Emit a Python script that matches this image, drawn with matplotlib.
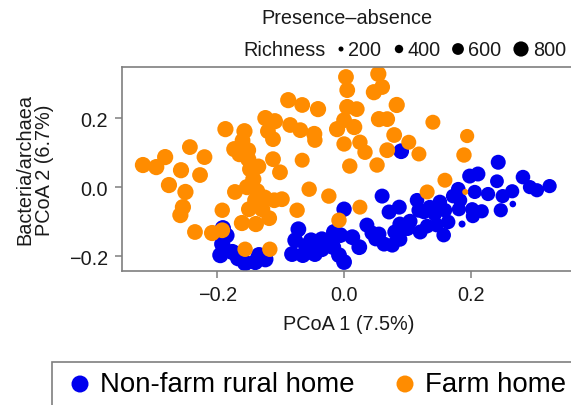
import matplotlib
matplotlib.use("Agg")
import matplotlib.pyplot as plt
from matplotlib.patches import Rectangle

plt.rcParams["font.family"] = ["Liberation Sans", "DejaVu Sans"]

# Farm homes (orange) - PCoA coordinates
farm_x = [-0.317, -0.296, -0.282, -0.243, -0.220, -0.257, -0.227, -0.276, -0.250, -0.254,
          -0.258, -0.235, -0.208, -0.192, -0.192, -0.187, -0.157, -0.173, -0.151, -0.151,
          -0.148, -0.143, -0.153, -0.172, -0.137, -0.140, -0.150, -0.129, -0.161, -0.139,
          -0.118, -0.156, -0.117, -0.124, -0.109, -0.120, -0.112, -0.112, -0.101, -0.098,
          -0.110, -0.074, -0.088, -0.066, -0.041, -0.085, -0.069, -0.047, -0.046, -0.066,
          -0.055, -0.024, 0.003, 0.005, 0.054, 0.060, 0.047, 0.005, 0.020, 0.083,
          -0.011, 0.000, 0.016, 0.055, 0.068, 0.079, 0.000, 0.025, 0.033, 0.068,
          0.102, 0.118, 0.009, 0.052, 0.140, 0.194, 0.189, 0.025, -0.008, 0.159,
          0.131, 0.191, -0.165, -0.135, -0.160, -0.125]
farm_y = [0.064, 0.058, 0.087, 0.116, 0.087, 0.049, 0.035, 0.006, -0.014, -0.058,
          -0.081, -0.130, -0.133, -0.125, -0.067, 0.168, 0.162, 0.110, 0.107, 0.081,
          0.052, 0.023, 0.000, -0.014, -0.012, -0.038, -0.064, -0.064, -0.104, -0.107,
          -0.090, -0.180, -0.180, 0.200, 0.191, 0.162, 0.139, 0.081, 0.043, -0.035,
          -0.038, -0.067, 0.252, 0.238, 0.226, 0.180, 0.165, 0.154, 0.136, 0.078,
          -0.006, -0.026, 0.319, 0.281, 0.328, 0.290, 0.275, 0.232, 0.226, 0.238,
          0.168, 0.194, 0.174, 0.197, 0.197, 0.151, 0.125, 0.130, 0.101, 0.107,
          0.130, 0.096, 0.061, 0.064, 0.188, 0.148, 0.093, -0.058, -0.096, 0.020,
          -0.014, -0.014, 0.095, 0.060, 0.135, -0.030]
farm_rich = [760, 760, 760, 740, 740, 760, 740, 760, 760, 760,
             760, 740, 760, 740, 720, 760, 760, 760, 740, 760,
             760, 760, 760, 740, 760, 760, 740, 760, 760, 760,
             740, 720, 720, 760, 760, 740, 740, 740, 740, 740,
             740, 720, 760, 740, 760, 740, 740, 760, 720, 700,
             720, 720, 740, 740, 760, 740, 760, 760, 740, 760,
             760, 740, 760, 760, 740, 740, 720, 720, 720, 740,
             700, 700, 720, 720, 700, 660, 720, 700, 720, 700,
             700, 250, 740, 740, 740, 740]

# Non-farm rural homes (blue)
rural_x = [-0.191, -0.192, -0.195, -0.176, -0.167, -0.156, -0.140, -0.124, -0.072, -0.077,
           -0.052, -0.035, -0.016, -0.006, 0.013, 0.024, -0.082, -0.065, -0.046, -0.035,
           -0.017, -0.008, 0.000, -0.058, 0.000, 0.036, 0.044, 0.055, 0.063, 0.076,
           0.088, 0.080, 0.088, 0.104, 0.071, 0.087, 0.118, 0.115, 0.060, 0.090,
           0.120, 0.131, 0.126, 0.135, 0.151, 0.143, 0.159, 0.146, 0.164, 0.157,
           0.172, 0.180, 0.183, 0.181, 0.186, 0.203, 0.202, 0.217, 0.206, 0.198,
           0.211, 0.227, 0.241, 0.243, 0.250, 0.247, 0.266, 0.265, 0.282, 0.293,
           0.304, 0.324, -0.134, -0.185, -0.060, -0.025, 0.050, 0.100]
rural_y = [-0.119, -0.165, -0.197, -0.188, -0.206, -0.220, -0.217, -0.209, -0.122, -0.154,
           -0.154, -0.151, -0.130, -0.139, -0.145, -0.174, -0.194, -0.197, -0.194, -0.180,
           -0.174, -0.197, -0.217, -0.188, -0.064, -0.110, -0.133, -0.136, -0.165, -0.168,
           -0.151, -0.130, -0.107, -0.099, -0.072, -0.058, -0.067, -0.038, -0.026, 0.104,
           -0.130, -0.113, -0.072, -0.058, -0.043, -0.078, -0.067, -0.110, -0.101, -0.139,
           -0.026, -0.006, -0.038, -0.064, -0.107, -0.084, -0.064, -0.070, -0.014, 0.032,
           0.038, -0.020, 0.017, 0.072, -0.026, -0.067, -0.049, -0.012, 0.029, 0.000,
           -0.009, 0.003, -0.197, -0.140, -0.170, -0.160, -0.150, -0.120]
rural_rich = [760, 760, 760, 760, 760, 760, 760, 760, 740, 740,
              740, 740, 740, 740, 740, 740, 740, 740, 740, 740,
              740, 740, 740, 740, 720, 700, 700, 700, 700, 700,
              700, 700, 700, 700, 700, 700, 700, 680, 700, 740,
              700, 680, 680, 680, 680, 680, 680, 680, 680, 680,
              680, 680, 660, 660, 300, 660, 660, 660, 660, 700,
              700, 660, 640, 700, 660, 660, 280, 660, 680, 660,
              660, 660, 760, 740, 740, 740, 700, 700]

legend_rich = [200, 400, 600, 800]

blue = "#0000EE"
orange = "#FF8C00"
grey = "#7f7f7f"
txt = "#1a1a1a"


def msize(r, k=0.02):
    # marker diameter in px grows with richness, returned as points^2
    d = 5 + (r - 200) * k
    return (d * 0.72) ** 2


W, H = 571, 406
fig = plt.figure(figsize=(W / 100, H / 100), dpi=100)
ax = fig.add_axes([122 / W, 1 - 272 / H, (575 - 122) / W, (272 - 68) / H])

ax.scatter(rural_x, rural_y, s=[msize(r) for r in rural_rich], c=blue, linewidths=0)
ax.scatter(farm_x, farm_y, s=[msize(r) for r in farm_rich], c=orange, linewidths=0)

ax.set_xlim(-0.35, 0.364)
ax.set_ylim(-0.243, 0.348)
ax.set_xticks([-0.2, 0.0, 0.2])
ax.set_yticks([-0.2, 0.0, 0.2])
for s in ax.spines.values():
    s.set_color(grey)
    s.set_linewidth(1.2)
ax.spines["right"].set_visible(False)
ax.tick_params(direction="out", length=5, width=1.1, color=grey,
               labelsize=14.3, labelcolor=txt, pad=5)
ax.set_xlabel("PCoA 1 (7.5%)", fontsize=14.3, color=txt, labelpad=7)
ax.set_ylabel("Bacteria/archaea\nPCoA 2 (6.7%)", fontsize=14.3, color=txt,
              linespacing=1.05, labelpad=11)

# overlay in pixel units for the legends
ov = fig.add_axes([0, 0, 1, 1], zorder=-1)
ov.set_xlim(0, W)
ov.set_ylim(H, 0)
ov.axis("off")

ov.text(347, 18, "Presence\u2013absence", fontsize=14.3, color=txt, ha="center", va="center")
ov.text(243, 50, "Richness", fontsize=14.3, color=txt, ha="left", va="center")
dot_x = [341, 399, 458, 521]
lab_x = [348, 408, 468, 533]
ov.scatter(dot_x, [50] * 4, s=[msize(r, 0.017) for r in legend_rich],
           c="black", linewidths=0)
for xl, r in zip(lab_x, legend_rich):
    ov.text(xl, 50, str(r), fontsize=14.3, color=txt, ha="left", va="center")

fig.patches.append(Rectangle((52 / W, -0.2), 1.0, (406 - 363) / H + 0.2,
                             transform=fig.transFigure, fill=False,
                             edgecolor=grey, linewidth=1.2))
ov.scatter([80, 405], [385, 385], s=(17 * 0.72) ** 2, c=[blue, orange], linewidths=0)
ov.text(100, 385, "Non-farm rural home", fontsize=19.9, color="black", ha="left", va="center")
ov.text(425, 385, "Farm home", fontsize=19.9, color="black", ha="left", va="center")

fig.savefig("out.png", dpi=100)
